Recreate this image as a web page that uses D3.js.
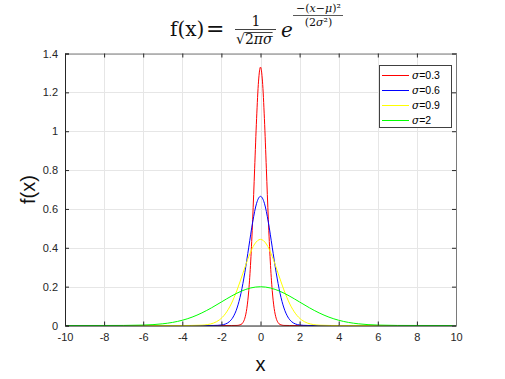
<!DOCTYPE html>
<html><head><meta charset="utf-8">
<script src="https://cdn.jsdelivr.net/npm/d3@7"></script>
<style>body{margin:0;background:#fff}svg{display:block}</style>
</head><body>
<svg id="c" width="505" height="379"></svg>
<script>
const xTicks=[-10,-8,-6,-4,-2,0,2,4,6,8,10];
const yTicks=[0,0.2,0.4,0.6,0.8,1,1.2,1.4];
const seriesLabels=["0.3","0.6","0.9","2"];
const seriesColors=["#ff0000","#0000ff","#ffff00","#00ff00"];

const x03=[-10,-1.5,-1.2,-1.0,-0.9,-0.8,-0.7,-0.6,-0.5,-0.4,-0.3,-0.2,-0.1,0,0.1,0.2,0.3,0.4,0.5,0.6,0.7,0.8,0.9,1.0,1.2,1.5,10];
const y03=[0,0,0.0004,0.0051,0.0148,0.0380,0.0874,0.1800,0.3317,0.5467,0.8066,1.0648,1.2579,1.3298,1.2579,1.0648,0.8066,0.5467,0.3317,0.1800,0.0874,0.0380,0.0148,0.0051,0.0004,0,0];

const x06=[-10,-3,-2.4,-2.0,-1.8,-1.6,-1.4,-1.2,-1.0,-0.8,-0.6,-0.4,-0.2,0,0.2,0.4,0.6,0.8,1.0,1.2,1.4,1.6,1.8,2.0,2.4,3,10];
const y06=[0,0,0.0002,0.0026,0.0074,0.0190,0.0437,0.0900,0.1658,0.2733,0.4033,0.5324,0.6290,0.6649,0.6290,0.5324,0.4033,0.2733,0.1658,0.0900,0.0437,0.0190,0.0074,0.0026,0.0002,0,0];

const x09=[-10,-4,-3.6,-3.0,-2.7,-2.4,-2.1,-1.8,-1.5,-1.2,-0.9,-0.6,-0.3,0,0.3,0.6,0.9,1.2,1.5,1.8,2.1,2.4,2.7,3.0,3.6,4,10];
const y09=[0,0,0.0001,0.0017,0.0049,0.0127,0.0291,0.0600,0.1106,0.1822,0.2689,0.3549,0.4193,0.4433,0.4193,0.3549,0.2689,0.1822,0.1106,0.0600,0.0291,0.0127,0.0049,0.0017,0.0001,0,0];

const x2=[-10,-8,-7,-6,-5.5,-5,-4.5,-4,-3.5,-3,-2.5,-2,-1.5,-1,-0.5,0,0.5,1,1.5,2,2.5,3,3.5,4,4.5,5,5.5,6,7,8,10];
const y2=[0,0.0001,0.0004,0.0022,0.0045,0.0088,0.0159,0.0270,0.0431,0.0648,0.0913,0.1210,0.1506,0.1760,0.1933,0.1995,0.1933,0.1760,0.1506,0.1210,0.0913,0.0648,0.0431,0.0270,0.0159,0.0088,0.0045,0.0022,0.0004,0.0001,0];

const seriesX=[x03,x06,x09,x2];
const seriesY=[y03,y06,y09,y2];

const svg=d3.select("#c");
const L=65,R=456,T=53.5,B=325.5;
const x=d3.scaleLinear().domain([-10,10]).range([L,R]);
const y=d3.scaleLinear().domain([0,1.4]).range([B,T]);
const axisCol="#262626";
const sans="'Liberation Sans',Arial,sans-serif";

// grid
const g=svg.append("g");
g.selectAll("line.gx").data(xTicks).join("line")
 .attr("x1",d=>Math.round(x(d))+0.5).attr("x2",d=>Math.round(x(d))+0.5).attr("y1",T).attr("y2",B)
 .attr("stroke","#e6e6e6").attr("stroke-width",1);
g.selectAll("line.gy").data(yTicks).join("line")
 .attr("y1",d=>Math.round(y(d))+0.5).attr("y2",d=>Math.round(y(d))+0.5).attr("x1",L).attr("x2",R)
 .attr("stroke","#e6e6e6").attr("stroke-width",1);

// curves
const line=d3.line().x(d=>x(d[0])).y(d=>y(d[1])).curve(d3.curveMonotoneX);
seriesX.forEach((xs,i)=>{
  svg.append("path").datum(xs.map((v,j)=>[v,seriesY[i][j]]))
   .attr("d",line).attr("fill","none").attr("stroke",seriesColors[i]).attr("stroke-width",1);
});

// axes
const xb=svg.append("g").attr("transform",`translate(0,${B})`)
 .call(d3.axisBottom(x).tickValues(xTicks).tickSize(-4).tickPadding(8).tickFormat(d=>String(d)));
const xt=svg.append("g").attr("transform",`translate(0,${T})`)
 .call(d3.axisTop(x).tickValues(xTicks).tickSize(-4).tickFormat(""));
const yl=svg.append("g").attr("transform",`translate(${L},0)`)
 .call(d3.axisLeft(y).tickValues(yTicks).tickSize(-4).tickPadding(7).tickFormat(d=>String(+d.toFixed(1))));
const yr=svg.append("g").attr("transform",`translate(${R},0)`)
 .call(d3.axisRight(y).tickValues(yTicks).tickSize(-4).tickFormat(""));
[xb,yl].forEach(a=>{a.select(".domain").attr("stroke",axisCol);a.selectAll(".tick line").attr("stroke",axisCol);
  a.selectAll("text").attr("fill",axisCol).style("font-family",sans).style("font-size","11px");});
[xt,yr].forEach(a=>{a.select(".domain").attr("stroke","#7a7a7a");a.selectAll(".tick line").attr("stroke",axisCol);});

// axis labels
svg.append("text").attr("x",(L+R)/2).attr("y",371).attr("text-anchor","middle")
 .style("font-family",sans).style("font-size","20px").attr("fill","#111").text("x");
svg.append("text").attr("transform",`translate(35,${(T+B)/2}) rotate(-90)`).attr("text-anchor","middle")
 .style("font-family",sans).style("font-size","20px").attr("fill","#111").text("f(x)");

// title
const tf="'DejaVu Serif','Liberation Serif',serif";
const tg=svg.append("g").attr("fill","#111").style("font-family",tf);
tg.append("text").attr("x",170).attr("y",36).style("font-size","20px").text("f(x)");
tg.append("text").attr("x",206).attr("y",36).style("font-size","22px").text("=");
tg.append("text").attr("x",256).attr("y",26).attr("text-anchor","middle").style("font-size","14px").text("1");
tg.append("line").attr("x1",235).attr("x2",276).attr("y1",29.5).attr("y2",29.5).attr("stroke","#111").attr("stroke-width",0.8);
const rs=tg.append("text").attr("x",236).attr("y",44).style("font-size","14px").text("√");
const rsW=rs.node().getComputedTextLength();
const rad=tg.append("text").attr("x",236+rsW).attr("y",44).style("font-size","14px");
rad.append("tspan").text("2");
rad.append("tspan").style("font-style","italic").text("πσ");
const radW=rad.node().getComputedTextLength();
tg.append("line").attr("x1",236+rsW-0.5).attr("x2",236+rsW+radW).attr("y1",32.5).attr("y2",32.5).attr("stroke","#111").attr("stroke-width",0.8);
tg.append("text").attr("x",281).attr("y",37).style("font-size","20px").style("font-style","italic").text("e");
const num=tg.append("text").attr("x",318.5).attr("y",12).attr("text-anchor","middle").style("font-size","11px");
num.append("tspan").text("−(");num.append("tspan").style("font-style","italic").text("x");
num.append("tspan").text("−");num.append("tspan").style("font-style","italic").text("μ");
num.append("tspan").text(")²");
tg.append("line").attr("x1",293).attr("x2",343).attr("y1",15.5).attr("y2",15.5).attr("stroke","#111").attr("stroke-width",0.7);
const den=tg.append("text").attr("x",318.5).attr("y",26).attr("text-anchor","middle").style("font-size","11px");
den.append("tspan").text("(2");den.append("tspan").style("font-style","italic").text("σ");den.append("tspan").text("²)");

// legend
const lg=svg.append("g");
lg.append("rect").attr("x",379.5).attr("y",65.5).attr("width",72).attr("height",62).attr("fill","#fff").attr("stroke","#404040").attr("stroke-width",1);
seriesLabels.forEach((s,i)=>{
  const yy=75.5+i*15;
  lg.append("line").attr("x1",382).attr("x2",409).attr("y1",yy).attr("y2",yy).attr("stroke",seriesColors[i]).attr("stroke-width",1);
  const t=lg.append("text").attr("x",412).attr("y",yy+3.8).attr("fill","#000")
   .style("font-family",sans).style("font-size","10.5px");
  t.append("tspan").style("font-style","italic").style("font-family","'DejaVu Serif',serif").text("σ");
  t.append("tspan").text("="+s);
});
</script>
</body></html>
